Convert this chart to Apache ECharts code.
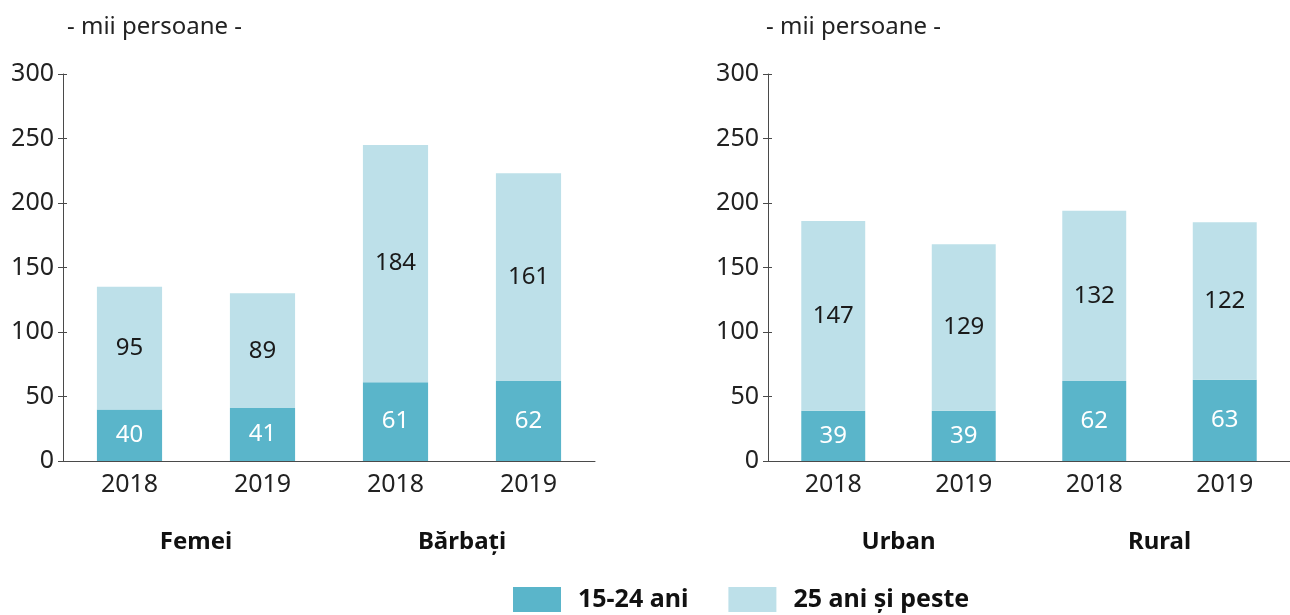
<!DOCTYPE html>
<html lang="ro">
<head>
    <meta charset="UTF-8">
    <title>Șomeri pe grupe de vârstă</title>
    <style type="text/css">
        html,body{margin:0;padding:0;background:#fff;}
        #chart{width:1290px;height:615px;}
    </style>
</head>
<body>
<div id="chart"></div>

<script src="https://cdn.jsdelivr.net/npm/echarts@6/dist/echarts.min.js"></script>
<script type="text/javascript">
    // date - mii persoane
    var years = ['2018', '2019', '2018', '2019'];
    var groupsLeft = ['Femei', 'Bărbați'];
    var groupsRight = ['Urban', 'Rural'];
    var seriesNames = ['15-24 ani', '25 ani și peste'];
    var youngLeft = [40, 41, 61, 62];
    var oldLeft = [95, 89, 184, 161];
    var youngRight = [39, 39, 62, 63];
    var oldRight = [147, 129, 132, 122];

    var FONT = 'Noto Sans';
    var DARK = '#5ab5ca';
    var LIGHT = '#bde0e9';
    var AXIS = '#4a4a4a';

    var myChart = echarts.init(document.getElementById('chart'), null, {renderer: 'canvas'});

    function yearAxis(grid) {
        return {
            type: 'category', gridIndex: grid, data: years,
            axisLine: {lineStyle: {color: AXIS, width: 1}},
            axisTick: {length: 7, lineStyle: {color: AXIS}},
            axisLabel: {color: '#222', fontSize: 25, fontFamily: FONT, margin: 11}
        };
    }
    function groupAxis(grid, groups) {
        return {
            type: 'category', gridIndex: grid, data: groups, position: 'bottom', offset: 59,
            axisLine: {show: false}, axisTick: {show: false},
            axisLabel: {color: '#111', fontSize: 24, fontWeight: 'bold', fontFamily: FONT, margin: 10}
        };
    }
    function valueAxis(grid) {
        return {
            type: 'value', gridIndex: grid, min: 0, max: 300, interval: 50, position: 'left',
            splitLine: {show: false},
            axisLine: {show: true, lineStyle: {color: AXIS, width: 1}},
            axisTick: {show: true, length: 5, lineStyle: {color: AXIS}},
            axisLabel: {color: '#222', fontSize: 25, fontFamily: FONT, margin: 9}
        };
    }
    // a doua axa doar pentru liniutele spre interior
    function innerTicks(grid) {
        return {
            type: 'value', gridIndex: grid, min: 0, max: 300, interval: 50, position: 'left',
            splitLine: {show: false}, axisLine: {show: false}, axisLabel: {show: false},
            axisTick: {show: true, inside: true, length: 4, lineStyle: {color: AXIS}}
        };
    }
    function bar(name, data, xi, yi, color, textColor, stack) {
        return {
            name: name, type: 'bar', stack: stack, data: data,
            xAxisIndex: xi, yAxisIndex: yi, barWidth: '49%',
            itemStyle: {color: color},
            label: {show: true, position: 'inside', color: textColor, fontSize: 24, fontFamily: FONT},
            emphasis: {disabled: true}
        };
    }

    var titleStyle = {fontSize: 24, fontWeight: 'normal', color: '#222', fontFamily: FONT};

    var option = {
        animation: false,
        title: [
            {text: '- mii persoane -', left: 62, top: 10, textStyle: titleStyle},
            {text: '- mii persoane -', left: 761, top: 10, textStyle: titleStyle}
        ],
        legend: {
            data: seriesNames, left: 513, top: 587, itemWidth: 48, itemHeight: 25, itemGap: 40,
            icon: 'rect', selectedMode: false, padding: 0,
            textStyle: {fontSize: 25, fontWeight: 'bold', color: '#111', fontFamily: FONT, padding: [0, 0, 0, 12]}
        },
        grid: [
            {left: 63, top: 74, width: 532, height: 387},
            {left: 768, top: 74, width: 530, height: 387}
        ],
        xAxis: [yearAxis(0), groupAxis(0, groupsLeft), yearAxis(1), groupAxis(1, groupsRight)],
        yAxis: [valueAxis(0), valueAxis(1), innerTicks(0), innerTicks(1)],
        series: [
            bar(seriesNames[0], youngLeft, 0, 0, DARK, '#fff', 'a'),
            bar(seriesNames[1], oldLeft, 0, 0, LIGHT, '#1a1a1a', 'a'),
            bar(seriesNames[0], youngRight, 2, 1, DARK, '#fff', 'b'),
            bar(seriesNames[1], oldRight, 2, 1, LIGHT, '#1a1a1a', 'b')
        ]
    };

    myChart.setOption(option);
</script>
</body>
</html>
